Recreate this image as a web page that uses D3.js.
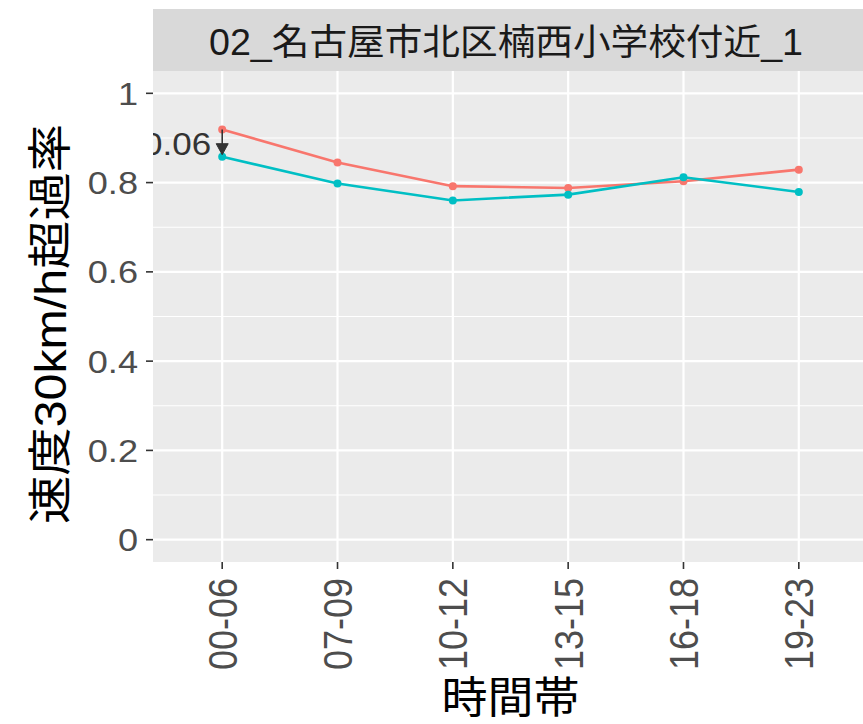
<!DOCTYPE html>
<html>
<head>
<meta charset="utf-8">
<script src="https://cdn.jsdelivr.net/npm/d3@7"></script>
<style>
  html, body { margin: 0; padding: 0; background: #ffffff; }
  svg { display: block; }
  text { font-family: "Liberation Sans", Arial, "Noto Sans CJK JP", sans-serif; }
</style>
</head>
<body>
<svg id="chart" width="863" height="724"></svg>
<script>
// ---- data ----
const categories = ["00-06", "07-09", "10-12", "13-15", "16-18", "19-23"];
const seriesA = [0.919, 0.845, 0.792, 0.788, 0.803, 0.829];   // red
const seriesB = [0.858, 0.798, 0.760, 0.773, 0.812, 0.779];   // teal
const yTicks = [0, 0.2, 0.4, 0.6, 0.8, 1];
const yTickLabels = ["0", "0.2", "0.4", "0.6", "0.8", "1"];
const yMinor = [0.1, 0.3, 0.5, 0.7, 0.9];
const stripLabel = "02_名古屋市北区楠西小学校付近_1";
const xTitle = "時間帯";
const yTitle = "速度30km/h超過率";
const annotationLabel = "0.06";

// ---- layout ----
const W = 863, H = 724;
const panel = { left: 153, right: 868, top: 71, bottom: 562 };
const strip = { top: 9, bottom: 71 };
const colA = "#F8766D", colB = "#00BFC4";
const SX = 1.13; // horizontal glyph stretch of the reference

const svg = d3.select("#chart");

const x = d3.scalePoint().domain(categories).range([panel.left, panel.right]).padding(0.6);
const y = d3.scaleLinear().domain([-0.05, 1.05]).range([panel.bottom, panel.top]);

// strip
svg.append("rect")
  .attr("x", panel.left).attr("y", strip.top)
  .attr("width", panel.right - panel.left).attr("height", strip.bottom - strip.top)
  .attr("fill", "#D9D9D9");
svg.append("text")
  .attr("x", (panel.left + W) / 2 - 2).attr("y", 55)
  .attr("text-anchor", "middle")
  .attr("font-size", 36)
  .attr("fill", "#1A1A1A")
  .attr("textLength", 594).attr("lengthAdjust", "spacingAndGlyphs")
  .text(stripLabel);

// panel
svg.append("defs").append("clipPath").attr("id", "pclip")
  .append("rect")
  .attr("x", panel.left).attr("y", panel.top)
  .attr("width", panel.right - panel.left).attr("height", panel.bottom - panel.top);

const pg = svg.append("g").attr("clip-path", "url(#pclip)");
pg.append("rect")
  .attr("x", panel.left).attr("y", panel.top)
  .attr("width", panel.right - panel.left).attr("height", panel.bottom - panel.top)
  .attr("fill", "#EBEBEB");

pg.selectAll("line.minor").data(yMinor).enter().append("line")
  .attr("x1", panel.left).attr("x2", panel.right)
  .attr("y1", d => y(d)).attr("y2", d => y(d))
  .attr("stroke", "#ffffff").attr("stroke-width", 1.1);
pg.selectAll("line.majy").data(yTicks).enter().append("line")
  .attr("x1", panel.left).attr("x2", panel.right)
  .attr("y1", d => y(d)).attr("y2", d => y(d))
  .attr("stroke", "#ffffff").attr("stroke-width", 2.2);
pg.selectAll("line.majx").data(categories).enter().append("line")
  .attr("y1", panel.top).attr("y2", panel.bottom)
  .attr("x1", d => x(d)).attr("x2", d => x(d))
  .attr("stroke", "#ffffff").attr("stroke-width", 2.2);

const line = d3.line().x((d, i) => x(categories[i])).y(d => y(d));
[[seriesA, colA], [seriesB, colB]].forEach(([s, c]) => {
  pg.append("path").datum(s).attr("d", line)
    .attr("fill", "none").attr("stroke", c).attr("stroke-width", 2.6);
  pg.selectAll(null).data(s).enter().append("circle")
    .attr("cx", (d, i) => x(categories[i])).attr("cy", d => y(d))
    .attr("r", 4).attr("fill", c);
});

// annotation arrow (difference at first category)
const ax = x(categories[0]);
const ay0 = y(seriesA[0]), ay1 = y(seriesB[0]);
pg.append("line")
  .attr("x1", ax).attr("x2", ax).attr("y1", ay0).attr("y2", ay1 - 4)
  .attr("stroke", "#333333").attr("stroke-width", 1.6);
pg.append("path")
  .attr("d", `M${ax - 6},${ay1 - 13} L${ax + 6},${ay1 - 13} L${ax},${ay1 - 2} Z`)
  .attr("fill", "#333333").attr("stroke", "#333333").attr("stroke-width", 1);
pg.append("g")
  .attr("transform", `translate(${ax - 11},${(ay0 + ay1) / 2}) scale(${SX},1)`)
  .append("text")
  .attr("text-anchor", "end").attr("dy", "0.38em")
  .attr("font-size", 31).attr("fill", "#333333")
  .text(annotationLabel);

// y axis
const yAxis = svg.append("g");
yAxis.selectAll("line").data(yTicks).enter().append("line")
  .attr("x1", panel.left - 7).attr("x2", panel.left)
  .attr("y1", d => y(d)).attr("y2", d => y(d))
  .attr("stroke", "#333333").attr("stroke-width", 1.6);
yAxis.selectAll("g").data(yTicks).enter().append("g")
  .attr("transform", d => `translate(${panel.left - 15},${y(d)}) scale(${SX},1)`)
  .append("text")
  .attr("text-anchor", "end").attr("dy", "0.36em")
  .attr("font-size", 32).attr("fill", "#4D4D4D")
  .text((d, i) => yTickLabels[i]);

// x axis
const xAxis = svg.append("g");
xAxis.selectAll("line").data(categories).enter().append("line")
  .attr("x1", d => x(d)).attr("x2", d => x(d))
  .attr("y1", panel.bottom).attr("y2", panel.bottom + 7)
  .attr("stroke", "#333333").attr("stroke-width", 1.6);
xAxis.selectAll("g").data(categories).enter().append("g")
  .attr("transform", d => `translate(${x(d)},${panel.bottom + 16}) scale(${SX},1) rotate(-90)`)
  .append("text")
  .attr("text-anchor", "end").attr("dy", "0.36em")
  .attr("font-size", 36).attr("fill", "#4D4D4D")
  .text(d => d);

// titles
svg.append("text")
  .attr("x", (panel.left + panel.right) / 2).attr("y", 713)
  .attr("text-anchor", "middle")
  .attr("font-size", 43).attr("fill", "#000000")
  .attr("textLength", 138).attr("lengthAdjust", "spacingAndGlyphs")
  .text(xTitle);
svg.append("text")
  .attr("transform", `translate(66,324) rotate(-90)`)
  .attr("text-anchor", "middle")
  .attr("font-size", 44).attr("fill", "#000000")
  .attr("textLength", 400).attr("lengthAdjust", "spacingAndGlyphs")
  .text(yTitle);
</script>
</body>
</html>
